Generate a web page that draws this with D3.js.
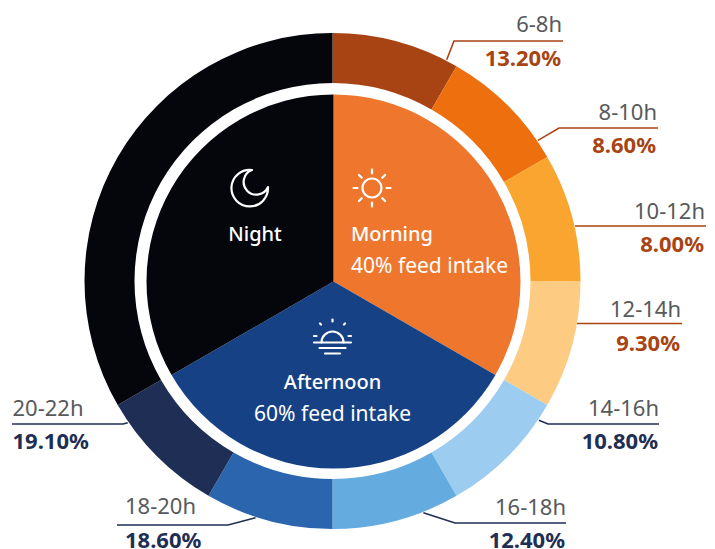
<!DOCTYPE html>
<html>
<head>
<meta charset="utf-8">
<script src="https://cdn.jsdelivr.net/npm/d3@7"></script>
<style>
html,body{margin:0;padding:0;background:#fff}
svg{display:block}
text{font-family:"Noto Sans",sans-serif}
</style>
</head>
<body>
<div id="chart"></div>
<script>
// Data
const ringCategories = ["6-8h","8-10h","10-12h","12-14h","14-16h","16-18h","18-20h","20-22h","22-6h"];
const ringHours      = [2,2,2,2,2,2,2,2,8];
const ringShares     = [13.2,8.6,8.0,9.3,10.8,12.4,18.6,19.1,null];
const ringColors     = ["#A84413","#EE6F0E","#F9A52F","#FDCB82","#9CCDF0","#64ABDF","#2A65AE","#1F2E54","#05060B"];
const periodNames    = ["Morning","Afternoon","Night"];
const periodHours    = [8,8,8];
const periodIntake   = [40,60,null];
const periodColors   = ["#EF772D","#164285","#05060B"];

// Layout of callouts: angle on ring (deg), elbow point, end of rule, text x and baselines
const calloutAngle = [27.3,55.6,null,null,124,158.6,198,235.3];
const calloutElbow = [[454,41],[559,128],[575,226],[577,323.5],[548,424],[455,523],[228,525],[123,424]];
const calloutEnd   = [563,658,706,682,659,566,117,12];
const labelX       = [562,657,705,681,659,566,125,12.5];
const labelTopY    = [32,120,219,317,416,515,514,416];
const labelBotY    = [66,153,252,351,449,548,548,449];

const W=715,H=549,cx=332.5,cy=281,R=248,ringInner=198,pieR=187;
const pieCx=333.5,pieCy=281.5;
const brown="#A84413",navy="#1F2E54",grey="#58595B";

const svg=d3.select("#chart").append("svg").attr("width",W).attr("height",H);
const g=svg.append("g").attr("transform",`translate(${cx},${cy})`);
const gp=svg.append("g").attr("transform",`translate(${pieCx},${pieCy})`);

const pie=d3.pie().sort(null).value(d=>d);
const ringArc=d3.arc().innerRadius(ringInner).outerRadius(R);
const pieArc=d3.arc().innerRadius(0).outerRadius(pieR);

g.selectAll("path.ring").data(pie(ringHours)).join("path").attr("class","ring")
  .attr("d",ringArc).attr("fill",(d,i)=>ringColors[i]);
gp.selectAll("path.period").data(pie(periodHours)).join("path").attr("class","period")
  .attr("d",pieArc).attr("fill",(d,i)=>periodColors[i]);

// Callouts
const fmt=d3.format(".2f");
ringCategories.slice(0,8).forEach((c,i)=>{
  const col=i<4?brown:navy;
  const e=calloutElbow[i], endX=calloutEnd[i];
  const a=calloutAngle[i];
  const start=a==null?null:d3.pointRadial(a*Math.PI/180,R+1);
  const pts=[];
  if(start) pts.push([start[0]+cx,start[1]+cy]);
  pts.push(e); pts.push([endX,e[1]]);
  svg.append("path").attr("d",d3.line()(pts)).attr("fill","none").attr("stroke",col).attr("stroke-width",1.6);
  const left=i>=6;
  const anchor=left?"start":"end";
  svg.append("text").attr("x",labelX[i]).attr("y",labelTopY[i]).attr("text-anchor",anchor)
    .attr("font-size",22).attr("fill",grey).text(c);
  svg.append("text").attr("x",labelX[i]-(left?0:1)).attr("y",labelBotY[i]).attr("text-anchor",anchor)
    .attr("font-size",22).attr("font-weight",700).attr("fill",col).text(fmt(ringShares[i])+"%");
});

// Period labels
function title(x,y,anchor,t){svg.append("text").attr("x",x).attr("y",y).attr("text-anchor",anchor)
  .attr("font-size",20).attr("font-weight",500).attr("fill","#fff").text(t);}
function sub(x,y,anchor,t){svg.append("text").attr("x",x).attr("y",y).attr("text-anchor",anchor)
  .attr("font-size",21).attr("fill","#fff").text(t);}
title(351,241,"start",periodNames[0]);
sub(351,273,"start",periodIntake[0]+"% feed intake");
title(332.5,388.5,"middle",periodNames[1]);
sub(332.5,421,"middle",periodIntake[1]+"% feed intake");
title(255,241,"middle",periodNames[2]);

// Icons
const stroke=(s,w=2.2)=>s.attr("fill","none").attr("stroke","#fff").attr("stroke-width",w).attr("stroke-linecap","round").attr("stroke-linejoin","round");
const sun=svg.append("g").attr("transform","translate(372,188)");
stroke(sun.append("circle").attr("r",9.5));
d3.range(8).forEach(k=>{
  const a=k*Math.PI/4,[x1,y1]=d3.pointRadial(a,14.5),[x2,y2]=d3.pointRadial(a,18.5);
  stroke(sun.append("line").attr("x1",x1).attr("y1",y1).attr("x2",x2).attr("y2",y2));
});
const moon=svg.append("g").attr("transform","translate(249,188)");
stroke(moon.append("path").attr("d","M3,-18 A18.3,18.3 0 1 0 19,-1 A12.7,12.7 0 1 1 3,-18Z"));
const rise=svg.append("g").attr("transform","translate(332.5,342.5)");
stroke(rise.append("path").attr("d","M-11,0 A11,11 0 0 1 11,0"));
[[-18.5,0],[-13,5.5],[-7.5,11]].forEach(([x,y])=>stroke(rise.append("line").attr("x1",x).attr("x2",-x).attr("y1",y).attr("y2",y)));
[[0,-23,0,-21],[-12.5,-19,-11.5,-18],[12.5,-19,11.5,-18],[-18.5,-6.5,-16,-6.5],[18.5,-6.5,16,-6.5]].forEach(l=>
  stroke(rise.append("line").attr("x1",l[0]).attr("y1",l[1]).attr("x2",l[2]).attr("y2",l[3])));
</script>
</body>
</html>
